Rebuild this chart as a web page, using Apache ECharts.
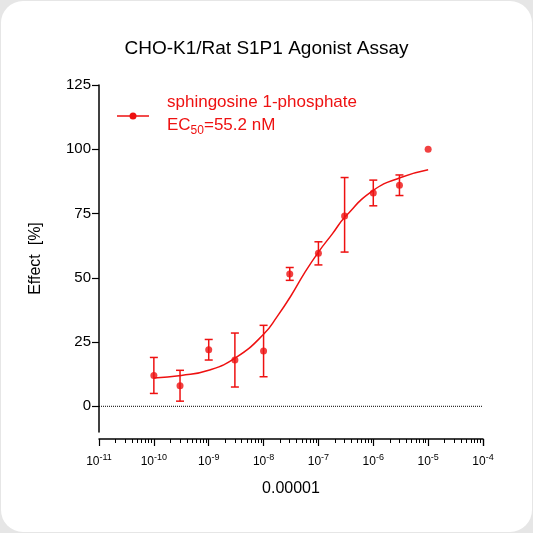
<!DOCTYPE html><html><head><meta charset="utf-8">
<script src="https://cdn.jsdelivr.net/npm/echarts@6/dist/echarts.min.js"></script>
<style>html,body{margin:0;background:#e6e6e6}#c{width:531px;height:531px;margin:1px;background:#fff;border-radius:22px;overflow:hidden}</style>
</head><body><div id="c"></div><script>
const concentrations=[1e-10,3e-10,1e-9,3e-9,1e-8,3e-8,1e-7,3e-7,1e-6,3e-6,1e-5];
const effects=[12,8,22,18,21.5,51.5,59.5,74,83,86,100];
const errLow=[5,2,18,7.5,11.5,49,55,60,78,82,null];
const errHigh=[19,14,26,28.5,31.5,54,64,89,88,90,null];
const curveLogX=[-10,-9.5,-9,-8.5,-8,-7.75,-7.5,-7.25,-7,-6.75,-6.5,-6,-5.5,-5];
const curveY=[11,12,14,19,28,35,43,52,60,67,74,84,89,92];
const xTicks=[-11,-10,-9,-8,-7,-6,-5,-4];
const red='#ee1111';
const ch=echarts.init(document.getElementById('c'));
const errData=concentrations.map((c,i)=>errLow[i]==null?null:[c,errLow[i],errHigh[i]]).filter(d=>d);
ch.setOption({
 animation:false,
 title:{text:'CHO-K1/Rat S1P1 Agonist Assay',left:'center',top:33,textStyle:{fontSize:19,fontWeight:'normal',color:'#000',fontFamily:'Liberation Sans'}},
 grid:{left:98,right:49,top:84,bottom:100},
 xAxis:{type:'log',logBase:10,min:1e-11,max:1e-4,offset:7,
  name:'0.00001',nameLocation:'middle',nameGap:42,nameTextStyle:{fontSize:16,color:'#000',fontFamily:'Liberation Sans'},
  axisLine:{onZero:false,lineStyle:{color:'#000',width:1.5}},axisTick:{length:7,lineStyle:{color:'#000',width:1.2}},
  minorTick:{show:true,splitNumber:9,length:4,lineStyle:{color:'#000'}},splitLine:{show:false},
  axisLabel:{margin:14,color:'#000',fontFamily:'Liberation Sans',formatter:v=>{const e=Math.round(Math.log10(v));return '{b|10}{s|'+e+'}';},
   rich:{b:{fontSize:12,color:'#000',fontFamily:'Liberation Sans'},s:{fontSize:9,color:'#000',fontFamily:'Liberation Sans',padding:[0,0,8,0]}}}},
 yAxis:{type:'value',min:-10,max:125,
  name:'Effect  [%]',nameLocation:'middle',nameGap:55,nameTextStyle:{fontSize:16,color:'#000',fontFamily:'Liberation Sans'},
  axisLine:{show:true,onZero:false,lineStyle:{color:'#000',width:1.5}},axisTick:{show:true,length:7,lineStyle:{color:'#000',width:1.2},customValues:[0,25,50,75,100,125]},
  axisLabel:{fontSize:15,color:'#000',fontFamily:'Liberation Sans',customValues:[0,25,50,75,100,125]},splitLine:{show:false}},
 series:[
  {type:'line',data:curveLogX.map((l,i)=>[Math.pow(10,l),curveY[i]]),smooth:true,symbol:'none',lineStyle:{color:red,width:1.5},z:2},
  {type:'line',data:[[1e-11,0],[1e-4,0]],symbol:'none',lineStyle:{color:'#000',type:'dotted',width:1},z:1},
  {type:'custom',data:errData,z:3,renderItem:(p,api)=>{
    const x=api.coord([api.value(0),api.value(1)]),y=api.coord([api.value(0),api.value(2)]);
    const s={stroke:red,lineWidth:1.5};
    return {type:'group',children:[
     {type:'line',shape:{x1:x[0],y1:x[1],x2:y[0],y2:y[1]},style:s},
     {type:'line',shape:{x1:x[0]-4,y1:x[1],x2:x[0]+4,y2:x[1]},style:s},
     {type:'line',shape:{x1:y[0]-4,y1:y[1],x2:y[0]+4,y2:y[1]},style:s}]};}},
  {type:'scatter',data:concentrations.map((c,i)=>[c,effects[i]]),symbolSize:7,itemStyle:{color:red},z:4}
 ],
 graphic:[
  {type:'line',shape:{x1:116,y1:115,x2:148,y2:115},style:{stroke:red,lineWidth:1.5}},
  {type:'circle',shape:{cx:132,cy:115,r:3.5},style:{fill:red}},
  {type:'text',left:166,top:93,style:{text:'sphingosine 1-phosphate',fontSize:17,fill:red,fontFamily:'Liberation Sans'}},
  {type:'text',left:166,top:116,style:{text:'EC{s|50}=55.2 nM',rich:{s:{fontSize:12,fill:red,padding:[10,0,0,0]}},fontSize:17,fill:red,fontFamily:'Liberation Sans'}}
 ]
});
</script></body></html>
